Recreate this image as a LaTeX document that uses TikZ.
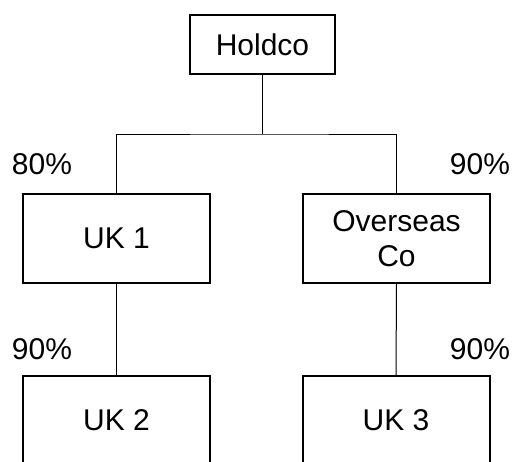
\documentclass[tikz,border=0pt]{standalone}
\usepackage{fontspec}
\setmainfont{Liberation Sans}
\newcommand\orgfont{\fontsize{30}{35}\selectfont}
\tikzset{
	entity/.style={draw,line width=2pt,minimum width=187pt,minimum height=89pt,align=center,font=\orgfont},
	share/.style={font=\orgfont,inner sep=0pt},
	link/.style={line width=1pt}
}
\begin{document}
\begin{tikzpicture}[x=1pt,y=1pt]
	\useasboundingbox (0,0) rectangle (514,-461);
	\clip (0,0) rectangle (514,-461);
	\node [entity,minimum width=145pt,minimum height=59pt] (holdco) at (262.5,-44.5) {Holdco};
	\node [entity] (uk1) at (116.5,-238.5) {UK 1};
	\node [entity] (overseas) at (396.5,-238.5) {Overseas\\Co};
	\node [entity] (uk2) at (116.5,-420.5) {UK 2};
	\node [entity] (uk3) at (396,-420.5) {UK 3};
	\coordinate (bar) at (262.5,-134);
	\draw [link] (holdco.south) -- (bar);
	\draw [link] (uk1.north) |- (bar) -| (overseas.north);
	\draw [link] (uk1.south) -- (uk2.north);
	\draw [link] (overseas.south) -- (uk3.north);
	\node [share] (pa) at (42,-164.5) {80\%};
	\node [share] (pb) at (480,-164.5) {90\%};
	\node [share] (pc) at (42,-349) {90\%};
	\node [share] (pd) at (480,-349) {90\%};
\end{tikzpicture}
\end{document}
